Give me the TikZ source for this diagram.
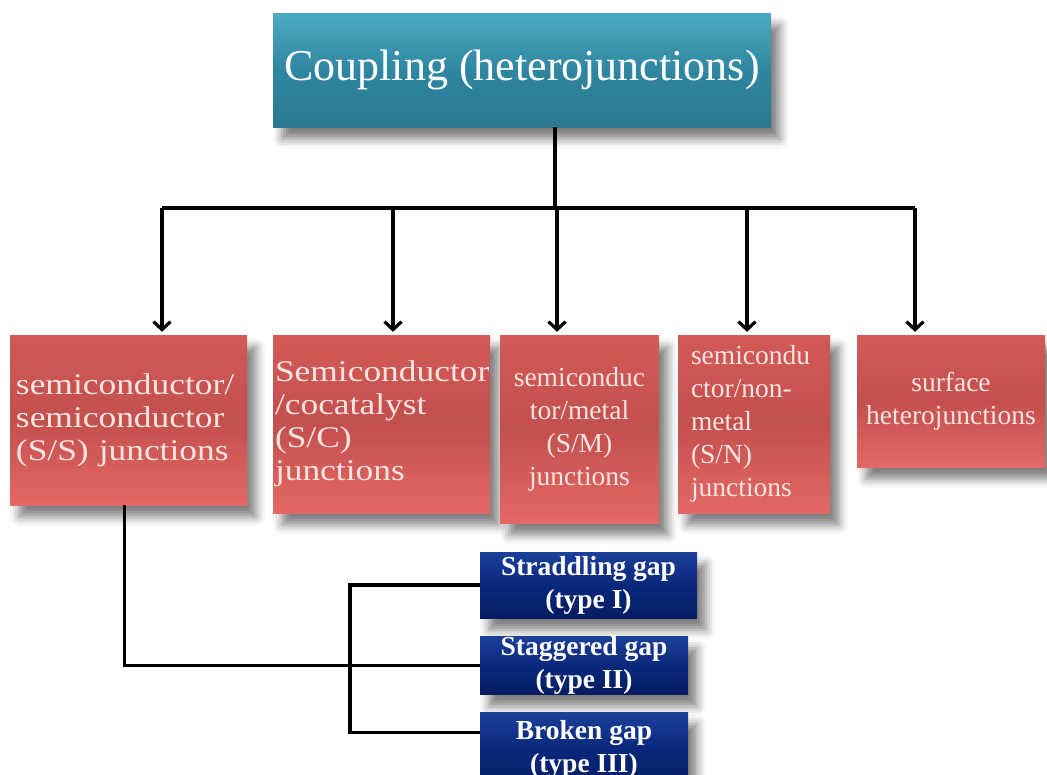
\documentclass[tikz,border=0pt]{standalone}
\usepackage{fontspec}
\setmainfont{Liberation Serif}
\newfontfamily\widefont[FakeStretch=1.18]{Liberation Serif}
\usepackage{tikz}
\usetikzlibrary{positioning}
\usetikzlibrary{arrows.meta}
\usetikzlibrary{shadows.blur}

\definecolor{tealtop}{HTML}{4DAAC4}
\definecolor{tealmid}{HTML}{2F86A0}
\definecolor{tealbot}{HTML}{2A7890}
\definecolor{redtop}{HTML}{D25A57}
\definecolor{redmid}{HTML}{C2504D}
\definecolor{redbot}{HTML}{E46865}
\definecolor{navytop}{HTML}{1C3F99}
\definecolor{navymid}{HTML}{09287B}
\definecolor{navybot}{HTML}{041D62}
\definecolor{pinktext}{HTML}{FAE4E2}

\begin{document}
\begin{tikzpicture}[x=1pt, y=-1pt,
    box/.style={rectangle, inner sep=0pt,
        blur shadow={shadow xshift=9pt, shadow yshift=-12pt, shadow opacity=50, shadow blur radius=9pt}},
    topbox/.style={box, top color=tealtop, bottom color=tealbot, middle color=tealmid,
        text=white, font=\fontsize{44}{50}\selectfont},
    redbox/.style={box, top color=redtop, bottom color=redbot, middle color=redmid,
        text=pinktext},
    bigtext/.style={font=\widefont\fontsize{30}{33}\selectfont},
    smalltext/.style={font=\fontsize{27.5}{33}\selectfont},
    bluebox/.style={box, top color=navytop, bottom color=navybot, middle color=navymid,
        text=white, align=center, font=\bfseries\fontsize{27.5}{33}\selectfont},
    line/.style={black, line width=3.2pt},
    arrow/.style={line, -{Straight Barb[length=8pt, width=17pt]}, shorten >=3pt}]

    \useasboundingbox (0,0) rectangle (1047,774);

    % top box
    \node [topbox, minimum width=498pt, minimum height=114pt] (top) at (522,70) {Coupling (heterojunctions)};

    % junction boxes
    \node [redbox, bigtext, align=left, text width=225pt, minimum width=237pt, minimum height=170pt] (box1) at (128.5,420)
        {semiconductor/\\semiconductor\\(S/S) junctions};
    \node [redbox, bigtext, align=left, text width=213pt, minimum width=217pt, minimum height=178pt] (box2) at (381.5,424)
        {Semiconductor\\/cocatalyst\\(S/C)\\junctions};
    \node [redbox, smalltext, align=center, text width=150pt, minimum width=159pt, minimum height=188pt] (box3) at (579.5,429)
        {semiconduc\\tor/metal\\(S/M)\\junctions};
    \node [redbox, smalltext, align=left, text width=126pt, minimum width=152pt, minimum height=178pt] (box4) at (754,424)
        {semicondu\\ctor/non-\\metal\\(S/N)\\junctions};
    \node [redbox, smalltext, align=center, text width=180pt, minimum width=188pt, minimum height=132pt] (box5) at (951,401)
        {surface\\heterojunctions};

    % gap types
    \node [bluebox, minimum width=217pt, minimum height=66pt] (gap1) at (588.5,585) {Straddling gap\\(type I)};
    \node [bluebox, minimum width=208pt, minimum height=57pt] (gap2) at (584,665.5) {Staggered gap\\(type II)};
    \node [bluebox, minimum width=208pt, minimum height=74pt] (gap3) at (584,749) {Broken gap\\(type III)};

    % bus
    \coordinate (bus) at (555,208);
    \coordinate (b1) at (162,208);
    \coordinate (b2) at (393,208);
    \coordinate (b3) at (557,208);
    \coordinate (b4) at (747,208);
    \coordinate (b5) at (915,208);
    \draw [line] (top.south -| bus) -- (bus);
    \draw [line] (b1) -- (b5);

    % arrows
    \draw [arrow] (b1) -- (b1 |- box1.north);
    \draw [arrow] (b2) -- (b2 |- box2.north);
    \draw [arrow] (b3) -- (b3 |- box3.north);
    \draw [arrow] (b4) -- (b4 |- box4.north);
    \draw [arrow] (b5) -- (b5 |- box5.north);

    % S/S to gap types
    \coordinate (brk) at (350,660);
    \coordinate (gap3in) at ([yshift=-21pt]gap3.north west);
    \draw [line] ([xshift=-4pt]box1.south) |- (gap2.west);
    \draw [line] (gap1.west) -| (brk) |- (gap3in);

\end{tikzpicture}
\end{document}
